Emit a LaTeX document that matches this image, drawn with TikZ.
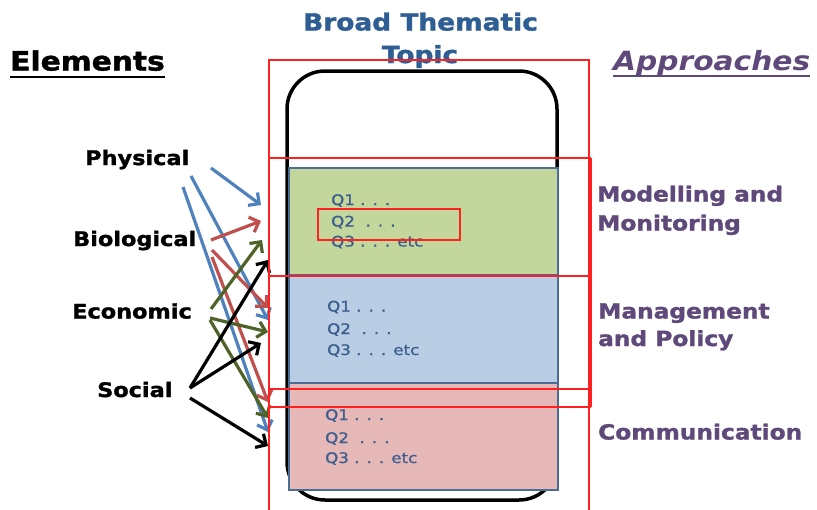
\documentclass[tikz,border=0pt]{standalone}
\usepackage{fontspec}
\usetikzlibrary{arrows.meta}
\newfontfamily\vfont{DejaVu Sans}[FakeStretch=1.12, BoldFeatures={FakeBold=1.5}]
\newfontfamily\qfont{DejaVu Sans}[FakeStretch=1.15, FakeBold=1]
\definecolor{titleblue}{HTML}{2F5E95}
\definecolor{appurple}{HTML}{5F497A}
\definecolor{qblue}{HTML}{3B5E8F}
\definecolor{boxgreen}{HTML}{C3D69B}
\definecolor{boxblue}{HTML}{B9CDE5}
\definecolor{boxpink}{HTML}{E6B9B8}
\definecolor{boxline}{HTML}{4A6D97}
\definecolor{arblue}{HTML}{4F81BD}
\definecolor{arred}{HTML}{C0504D}
\definecolor{argreen}{HTML}{4F6228}
\definecolor{redline}{HTML}{FF2020}
\begin{document}
\begin{tikzpicture}[x=1pt,y=-1pt,
  txt/.style={inner sep=0pt, anchor=base west, font=\vfont\bfseries},
  lbl/.style={txt, font=\vfont\bfseries\fontsize{20}{24}\selectfont, text=black},
  apr/.style={txt, font=\vfont\bfseries\fontsize{20.8}{24}\selectfont, text=appurple},
  qtx/.style={txt, font=\qfont\fontsize{14.5}{16}\selectfont, text=qblue},
  region/.style={draw=boxline, line width=1.2pt},
  arr/.style={line width=3.2pt, -{Straight Barb[length=8pt,width=16pt]}},
  redthin/.style={draw=redline, line width=1.3pt},
]
\useasboundingbox (0,0) rectangle (817,509);

% container
\draw[line width=3.5pt, rounded corners=38pt] (287,71) rectangle (557,500);
\path[region, fill=boxgreen] (289,168) rectangle (558,275);
\path[region, fill=boxblue] (289,275) rectangle (558,383);
\path[region, fill=boxpink] (289,383) rectangle (558,490);

% titles
\node[txt, font=\vfont\bfseries\fontsize{23.6}{28}\selectfont, text=titleblue, anchor=base] (title1) at (420.5,30.5) {Broad Thematic};
\node[txt, font=\vfont\bfseries\fontsize{23.6}{28}\selectfont, text=titleblue, anchor=base] (title2) at (420,63) {Topic};
\node[txt, font=\vfont\bfseries\fontsize{26.5}{30}\selectfont] (elem) at (10,70.5) {Elements};
\draw[line width=2pt] ([yshift=-6pt]elem.base west) -- ([yshift=-6pt]elem.base east);
\node[txt, font=\vfont\bfseries\itshape\fontsize{26.5}{30}\selectfont, text=appurple] (appr) at (613,70) {Approaches};
\draw[line width=2pt, appurple] ([yshift=-6pt]appr.base west) -- ([yshift=-6pt]appr.base east);

% element labels
\node[lbl] (phys) at (85,165) {Physical};
\node[lbl] (bio) at (73,246) {Biological};
\node[lbl] (econ) at (72,318.5) {Economic};
\node[lbl] (soc) at (97,397) {Social};

% approach labels
\node[apr] (mod1) at (597,201.5) {Modelling and};
\node[apr] (mod2) at (597,230.5) {Monitoring};
\node[apr] (man1) at (598,318.5) {Management};
\node[apr] (man2) at (598,346) {and Policy};
\node[apr] (com) at (598,439.5) {Communication};

% questions
\node[qtx] (gq1) at (331,205) {Q1 . . .};
\node[qtx] (gq2) at (331,226.5) {Q2\ \ . . .};
\node[qtx] (gq3) at (331,246.5) {Q3 . . . etc};
\node[qtx] (bq1) at (327,311.5) {Q1 . . .};
\node[qtx] (bq2) at (327,334) {Q2\ \ . . .};
\node[qtx] (bq3) at (327,355) {Q3 . . . etc};
\node[qtx] (pq1) at (325,420) {Q1 . . .};
\node[qtx] (pq2) at (325,443) {Q2\ \ . . .};
\node[qtx] (pq3) at (325,463) {Q3 . . . etc};

% arrow end points
\coordinate (pb1s) at (211,168); \coordinate (pb1e) at (261,205);
\coordinate (pb2s) at (191,176); \coordinate (pb2e) at (268,320);
\coordinate (pb3s) at (183,187); \coordinate (pb3e) at (268,432);
\coordinate (br1s) at (211,240); \coordinate (br1e) at (261,221);
\coordinate (br2s) at (212,250); \coordinate (br2e) at (268,308);
\coordinate (br3s) at (212,257); \coordinate (br3e) at (268,402);
\coordinate (eg1s) at (211,309); \coordinate (eg1e) at (262,240);
\coordinate (eg2s) at (210,318); \coordinate (eg2e) at (268,332);
\coordinate (eg3s) at (210,320); \coordinate (eg3e) at (268,418);
\coordinate (sk1s) at (190,388); \coordinate (sk1e) at (268,260);
\coordinate (sk2s) at (190,388); \coordinate (sk2e) at (261,343);
\coordinate (sk3s) at (190,398); \coordinate (sk3e) at (268,446);

\draw[arr, arblue] (pb1s) -- (pb1e);
\draw[arr, arblue] (pb2s) -- (pb2e);
\draw[arr, arblue] (pb3s) -- (pb3e);
\draw[arr, arred] (br1s) -- (br1e);
\draw[arr, arred] (br2s) -- (br2e);
\draw[arr, arred] (br3s) -- (br3e);
\draw[arr, argreen] (eg1s) -- (eg1e);
\draw[arr, argreen] (eg2s) -- (eg2e);
\draw[arr, argreen] (eg3s) -- (eg3e);
\draw[arr, black] (sk1s) -- (sk1e);
\draw[arr, black] (sk2s) -- (sk2e);
\draw[arr, black] (sk3s) -- (sk3e);

% red frames
\draw[redthin] (269,512) -- (269,60) -- (589,60) -- (589,512);
\draw[redthin] (269,158) rectangle (590,407);
\draw[draw=redline, line width=3.3pt] (590,158) -- (590,407);
\draw[redthin] (269,276) rectangle (589,389);
\draw[draw=redline, line width=1.6pt] (318,209) rectangle (460,240);
\end{tikzpicture}
\end{document}
